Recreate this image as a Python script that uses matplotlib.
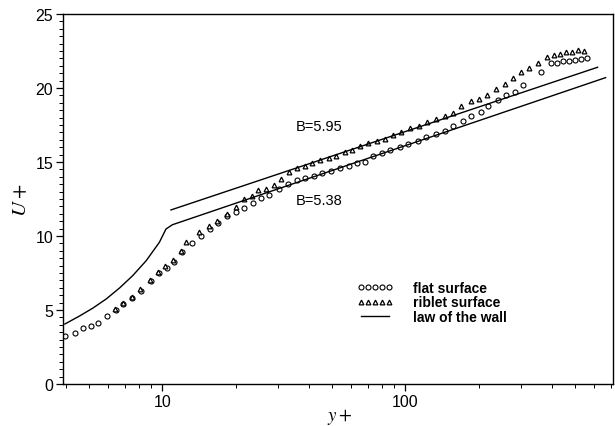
import numpy as np
import matplotlib
matplotlib.use("Agg")
import matplotlib.pyplot as plt
from matplotlib.ticker import LogLocator, FixedLocator, MultipleLocator, NullFormatter

plt.rcParams["font.family"] = ["Liberation Sans", "DejaVu Sans"]
plt.rcParams["mathtext.fontset"] = "stix"

# flat surface (circles)
flat_y = [3.96, 4.36, 4.71, 5.07, 5.45, 5.91, 6.46, 6.92, 7.52, 8.19, 8.99, 9.72,
          10.45, 11.2, 12.0, 13.3, 14.4, 15.7, 16.9, 18.4, 20.0, 21.7, 23.6, 25.4,
          27.6, 30.2, 33.0, 35.9, 38.8, 42.0, 45.4, 49.6, 54.0, 58.4, 63.1, 68.4,
          73.9, 80.0, 86.5, 95.1, 102.8, 113, 122, 134, 145, 157, 173, 187, 204,
          219, 241, 260, 282, 305, 360, 398, 421, 445, 471, 499, 528, 558]
flat_u = [3.27, 3.45, 3.76, 3.94, 4.12, 4.62, 5.0, 5.43, 5.81, 6.31, 6.98, 7.5,
          7.84, 8.22, 8.9, 9.5, 10.0, 10.47, 10.9, 11.37, 11.6, 11.9, 12.2, 12.6,
          12.8, 13.2, 13.5, 13.8, 13.9, 14.07, 14.26, 14.4, 14.6, 14.75, 14.9, 15.0,
          15.4, 15.6, 15.8, 16.0, 16.2, 16.4, 16.7, 16.9, 17.1, 17.4, 17.8, 18.1, 18.35,
          18.8, 19.2, 19.5, 19.75, 20.2, 21.06, 21.7, 21.7, 21.8, 21.85, 21.9, 21.95, 22.0]

# riblet surface (triangles)
riblet_y = [6.4, 6.9, 7.5, 8.1, 8.9, 9.6, 10.3, 11.1, 11.9, 12.5, 14.2, 15.5, 16.8,
            18.4, 20.0, 21.7, 23.4, 24.8, 26.7, 28.8, 30.9, 33.1, 35.9, 38.8, 41.3,
            44.7, 48.3, 51.8, 56.2, 60.3, 65.2, 70.5, 76.2, 82.6, 89.3, 96.0, 104.5,
            114, 123, 134, 145, 157, 170, 186, 200, 217, 237, 256, 277, 300, 324,
            351, 383, 408, 432, 458, 483, 515, 545]
riblet_u = [5.05, 5.5, 5.9, 6.4, 7.05, 7.6, 8.0, 8.4, 9.0, 9.57, 10.25, 10.7, 11.0,
            11.5, 11.94, 12.5, 12.7, 13.1, 13.2, 13.45, 13.85, 14.3, 14.57, 14.7, 14.9,
            15.15, 15.27, 15.4, 15.65, 15.8, 16.05, 16.25, 16.4, 16.55, 16.8, 17.0, 17.3,
            17.4, 17.7, 17.9, 18.1, 18.3, 18.8, 19.1, 19.26, 19.5, 19.9, 20.3, 20.65, 21.1,
            21.35, 21.7, 22.1, 22.2, 22.3, 22.4, 22.45, 22.57, 22.5]

# law of the wall, B=5.38 and B=5.95
law_y = [3.97, 4.57, 5.18, 5.87, 6.67, 7.55, 8.58, 9.72, 10.35, 11.0, 667]
law_u = [4.05, 4.6, 5.13, 5.74, 6.49, 7.32, 8.33, 9.57, 10.47, 10.76, 20.7]
law2_y = [10.85, 618]
law2_u = [11.76, 21.4]

fig = plt.figure(figsize=(6.15, 4.27), dpi=100)
ax = fig.add_axes([0.1024, 0.0984, 0.8943, 0.8665])

ax.plot(flat_y, flat_u, linestyle="none", marker="o", markersize=3.6,
        markerfacecolor="white", markeredgecolor="black", markeredgewidth=0.8,
        label="flat surface")
ax.plot(riblet_y, riblet_u, linestyle="none", marker="^", markersize=3.4,
        markerfacecolor="white", markeredgecolor="black", markeredgewidth=0.9,
        label="riblet surface")
ax.plot(law_y, law_u, color="black", linewidth=1.0, label="law of the wall")
ax.plot(law2_y, law2_u, color="black", linewidth=1.0)

ax.text(35.4, 17.4, "B=5.95", fontsize=10.5, va="center", ha="left")
ax.text(35.4, 12.4, "B=5.38", fontsize=10.5, va="center", ha="left")

ax.set_xscale("log")
ax.set_xlim(3.9, 715)
ax.set_ylim(0, 25)

ax.xaxis.set_major_locator(FixedLocator([10, 100]))
ax.xaxis.set_major_formatter(plt.FixedFormatter(["10", "100"]))
ax.xaxis.set_minor_locator(LogLocator(base=10, subs=np.arange(2, 10)))
ax.xaxis.set_minor_formatter(NullFormatter())
ax.yaxis.set_major_locator(MultipleLocator(5))
ax.yaxis.set_minor_locator(MultipleLocator(0.5))

ax.tick_params(which="major", direction="out", length=5, width=0.9, labelsize=11.5, pad=2)
ax.tick_params(which="minor", direction="out", length=3, width=0.7)
for s in ax.spines.values():
    s.set_linewidth(1.0)

ax.set_xlabel("$y+$", fontsize=13.5)
ax.xaxis.set_label_coords(0.504, -0.06)
ax.set_ylabel("$U+$", fontsize=15, labelpad=4)

leg = ax.legend(loc="upper left", bbox_to_anchor=(0.512, 0.313), frameon=False,
                numpoints=5, handlelength=2.6, handletextpad=1.4, labelspacing=0.05,
                prop={"weight": "bold", "size": 10})

fig.savefig("out.png", dpi=100)
